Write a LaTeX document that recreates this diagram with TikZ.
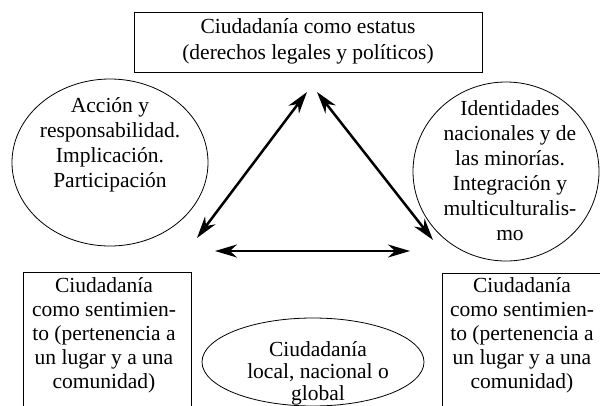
\documentclass[tikz,border=0pt]{standalone}
\usepackage{fontspec}
\setmainfont{Liberation Serif}
\usetikzlibrary{arrows.meta,shapes.geometric}

\begin{document}
\begin{tikzpicture}[x=1pt,y=-1pt,
    txt/.style={align=center, inner sep=0pt, anchor=north, font=\fontsize{21.5}{25}\selectfont},
    caja/.style={draw, line width=0.9pt, inner sep=0pt},
    ovalo/.style={draw, ellipse, line width=0.8pt, inner sep=0pt},
    flecha/.style={line width=2.5pt, {Stealth[length=22pt,width=13pt,inset=7pt]}-{Stealth[length=22pt,width=13pt,inset=7pt]}}]

    \useasboundingbox (0,0) rectangle (600,405);
    \clip (0,0) rectangle (600,405);

    % marcos
    \node[caja, minimum width=348pt, minimum height=60pt] (estatus) at (308,42) {};
    \node[caja, minimum width=168pt, minimum height=150pt, anchor=north west] (sentIzq) at (23,272) {};
    \node[caja, minimum width=168pt, minimum height=150pt, anchor=north west] (sentDer) at (442,273) {};
    \node[ovalo, minimum width=196pt, minimum height=167pt] (accion) at (110,162.5) {};
    \node[ovalo, minimum width=186pt, minimum height=179pt] (identidad) at (506,171.5) {};
    \node[ovalo, minimum width=222pt, minimum height=88pt] (ambito) at (313,362) {};

    % textos
    \node[txt, font=\fontsize{21.5}{26}\selectfont] (estatusT) at (308,18)
        {Ciudadanía como estatus\\(derechos legales y políticos)};
    \node[txt] (accionT) at (110,97)
        {Acción y\\responsabilidad.\\Implicación.\\Participación};
    \node[txt] (identidadT) at (510,100)
        {Identidades\\nacionales y de\\las minorías.\\Integración y\\multiculturalis-\\mo};
    \node[txt, font=\fontsize{21.5}{24}\selectfont] (sentIzqT) at (104,277)
        {Ciudadanía\\como sentimien-\\to (pertenencia a\\un lugar y a una\\comunidad)};
    \node[txt, font=\fontsize{21.5}{24}\selectfont] (sentDerT) at (522,277)
        {Ciudadanía\\como sentimien-\\to (pertenencia a\\un lugar y a una\\comunidad)};
    \node[txt, font=\fontsize{21.5}{22}\selectfont] (ambitoT) at (318,341)
        {Ciudadanía\\local, nacional o\\global};

    % triangulo de flechas
    \coordinate (arribaI) at (307,92);
    \coordinate (arribaD) at (317,92);
    \coordinate (abajoI) at (197,238);
    \coordinate (abajoD) at (433,240);
    \coordinate (baseI) at (215,251);
    \coordinate (baseD) at (410,251);

    \draw[flecha] (abajoI) -- (arribaI);
    \draw[flecha] (arribaD) -- (abajoD);
    \draw[flecha] (baseI) -- (baseD);

\end{tikzpicture}
\end{document}
